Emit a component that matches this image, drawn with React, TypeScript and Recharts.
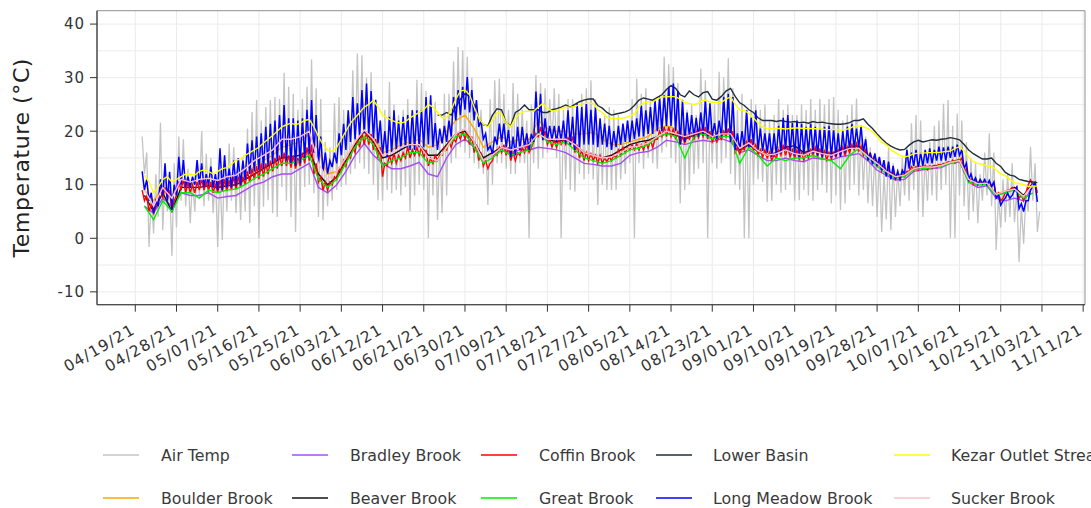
import React from "react";
import { LineChart, Line, XAxis, YAxis, CartesianGrid, ReferenceArea } from "recharts";

// days are counted from 04/19/21 (day 0)
const tickDays = [0, 9, 18, 27, 36, 45, 54, 63, 72, 81, 90, 99, 108, 117, 126, 135, 144, 153, 162, 171, 180, 189, 198, 207];
const tickLabels = [
  "04/19/21", "04/28/21", "05/07/21", "05/16/21", "05/25/21", "06/03/21", "06/12/21", "06/21/21",
  "06/30/21", "07/09/21", "07/18/21", "07/27/21", "08/05/21", "08/14/21", "08/23/21", "09/01/21",
  "09/10/21", "09/19/21", "09/28/21", "10/07/21", "10/16/21", "10/25/21", "11/03/21", "11/11/21",
];
const yTicks = [-10, 0, 10, 20, 30, 40];
const yGrid = [-10, -5, 0, 5, 10, 15, 20, 25, 30, 35, 40];

// half-day readings (afternoon high, night low), starting 04/20 noon
const airTemp = [19,
  12, 16, -1.6, 8, 0.9, 12, 4, 21.6, 1.5, 12, 5, 10, -3.3, 14, 2, 19, 7, 18.5,
  6, 13, 2.8, 11, 5, 14, 7.8, 20, 6, 15.8, 7, 15, 4.7, 12, -1.6, 13, -0.3, 14.6, 5, 17.7,
  7, 17, 4.7, 15, 3.4, 15, 5, 20.5, 2.8, 23.6, 6, 25.8, 0, 22, 5.9, 24.5, 7.1, 25.8, 4.7, 26.4,
  4, 26, 9.6, 30.9, 7, 28.3, 4, 27, 1.2, 24, 7, 26, 9.6, 28.3, 10, 33.4, 8.4, 28, 4, 26,
  3.4, 18, 6, 17, 7, 25.2, 9, 26.4, 9.6, 24, 10, 22, 12, 31.4, 13, 34.5, 14, 34.2, 13, 30,
  12, 31, 10, 26, 7.1, 22, 7, 24, 9, 29.2, 8.4, 25, 9, 23, 8, 24, 9.6, 26, 5, 24,
  8, 29.6, 10, 29, 9, 27.5, 0, 26, 8, 25.5, 3.4, 18, 4.7, 27, 8, 27, 14, 33, 15, 35.7,
  17, 35.1, 16, 33.9, 15, 30, 14, 22, 13, 24, 12, 20, 6.2, 26, 10, 29.5, 14, 29.8, 14, 27,
  13, 24, 12, 29, 12, 27, 14, 24, 14, 22, 0, 25, 14, 30.5, 13, 29, 15, 28, 16, 26,
  17, 28, 15, 27, 0, 24, 11, 26, 9, 26, 8.7, 24, 12, 27, 11, 28, 12, 29.5, 11, 26,
  6.2, 22, 10, 23, 9, 24.5, 9, 24, 9, 23, 11, 21, 12, 22, 14, 26, 0, 29.8, 14, 27,
  13, 28, 15, 26, 14, 24, 13, 26, 16, 33.9, 17, 32.5, 15, 32, 14, 29, 6.5, 26, 9, 24,
  10, 25, 12, 23, 13, 31.7, 14, 29.5, 0, 24, 14, 25, 13, 31.1, 14, 30, 15, 33.6, 12, 28,
  10, 24, 9, 27, 0, 24, 0, 26, 10, 25, 11, 24, 10.5, 25, 6.8, 22, 7, 23, 10, 26,
  8.5, 24, 9, 25, 10, 23, 7, 23, 7.1, 25, 9, 24, 8, 26, 7, 24, 9, 26, 10, 25,
  8.5, 26, 6.5, 26.4, 8, 24, 5.3, 22, 6.5, 23, 9, 25, 10, 26.1, 8, 20, 9, 19, 6.5, 17,
  6, 16, 4, 15, 1.2, 12, 3.5, 17, 1.5, 14, 4, 13, 6, 15, 8, 17, 7, 21.5, 9, 23,
  5, 22, 4, 16, 7, 18, 8, 21, 7, 22, 9, 25.1, 10, 25.8, 0, 21, 0, 23.3, 8, 22,
  6, 18, 3.4, 15, 5, 14, 2.8, 12, 7, 16, 8, 19.6, 6, 16, -2.2, 8, 2, 11, 3, 12,
  4, 14, 3, 9, -4.4, 6, -1, 8, 5, 17.1, 7, 14, 1.2, 5];

const longMeadow = [12.5,
  9, 11, 7, 8.5, 4.7, 7, 6, 11, 8, 14, 7, 12.4, 5.3, 10, 8, 15.2, 10, 14.6,
  9.6, 11.5, 9.6, 11.5, 10, 14.6, 10, 14, 9.6, 12, 10, 13.4, 9.5, 12, 9, 16.8, 9, 15.5, 9.5, 13,
  9.5, 14.5, 9.8, 15, 10, 14.5, 11, 17.7, 12, 18.3, 12.5, 19, 12.7, 19.6, 13, 20.8, 13.5, 21.4, 14, 22,
  14.5, 23, 15, 24.9, 14.5, 22.4, 14, 22.4, 13.5, 22, 14, 22.4, 15, 24, 15.8, 25.8, 16, 23, 14, 19,
  12.5, 16, 12.1, 14.5, 13.3, 16, 14, 19.6, 15.5, 21.4, 16.5, 23.9, 18, 26.4, 18.5, 25.2, 19, 27.7, 19.6, 28.9,
  19.5, 27.5, 18.5, 25.8, 17.7, 22, 15.5, 20, 15.2, 22.7, 16, 23.9, 16.5, 22, 16.8, 22.7, 17, 23, 16.5, 23.9,
  16.5, 23.9, 17, 23.9, 17, 26.4, 17.5, 26.7, 17, 21.5, 16.5, 20.5, 17.7, 21, 18, 22, 19, 26.4, 22, 27.7,
  23, 28.3, 24, 30.1, 23.5, 27.7, 22, 25.8, 20.8, 22, 18.5, 19.5, 16.5, 17.2, 15.8, 19, 17.5, 21.4, 18, 21.4,
  17, 20.2, 15.2, 19, 15.5, 20.8, 16.5, 20.8, 17, 19.6, 16.5, 19.5, 18, 27.4, 19.5, 27, 18.3, 22.4, 18.3, 21,
  18.3, 21, 18, 21, 18.3, 22, 17.7, 23.9, 17.5, 22.7, 16.5, 25.2, 17, 24.5, 17.5, 25.2, 17.5, 24, 17.5, 24.5,
  17, 22.4, 17.5, 21.4, 17, 21, 16.5, 20, 17, 21, 17.5, 21.4, 18, 22, 18, 22, 18.5, 22.4, 19, 24.9,
  19, 23.9, 19.5, 24.5, 19.5, 25.8, 20, 26.4, 20, 26.7, 21, 28.3, 21, 28.9, 20, 27.5, 17.5, 25.8, 18, 23.5,
  19, 23, 19, 22.5, 19, 23.5, 19.5, 25.8, 19, 25.2, 19, 21.5, 18.5, 22, 19, 26.4, 19.5, 27, 18, 26.4,
  16.5, 19.6, 16.5, 20, 17, 23.9, 17, 22.5, 17.5, 23.9, 16.5, 20.5, 16.3, 19.6, 16, 19.6, 15.2, 19.6, 15.5, 21,
  16, 22.5, 16.3, 23, 16, 21.5, 15.5, 22, 15.2, 21.4, 15.5, 20.8, 16, 21.4, 16, 20.8, 15.5, 20.5, 15.2, 20.8,
  15.5, 21, 15.2, 20.2, 15.3, 19.6, 15.2, 20, 16, 20.8, 16.5, 21.4, 16.8, 20.5, 17, 21, 16, 18.5, 14.5, 16,
  13.8, 15.8, 13.5, 15.2, 12.7, 14.6, 11.5, 14.3, 11, 13.5, 11, 12.5, 11, 12.7, 12, 16.5, 13, 16, 13.5, 16.5,
  13, 16, 13.5, 16.5, 14, 16.8, 14, 16.5, 14.5, 17.1, 14.5, 17, 14.5, 17.1, 15, 17.1, 15.2, 17.5, 15.5, 16.5,
  13, 14, 11, 12, 10.5, 11.3, 10, 11, 10.2, 11, 10, 10.8, 9.6, 10.5, 7.5, 8, 6.2, 7, 7.5, 8.4,
  7.5, 8, 9, 9.6, 5.5, 6.5, 5, 7, 7, 9, 10, 10.2,
  6.8];

const coffin = [9,
  7, 8, 5, 6.5, 4.7, 6, 6.5, 9.6, 7.5, 9.5, 7.5, 9, 5, 7, 8, 10.6, 9, 11,
  8.5, 10.5, 8.5, 10, 8.5, 10.5, 9, 11, 9, 10.5, 9, 10.5, 8.5, 10.2, 8.5, 11, 8.8, 11, 8.8, 10.8,
  9, 11.5, 9.2, 11.5, 9.5, 11.5, 10, 12.5, 10.5, 13, 11, 13.5, 11, 14, 11.5, 14, 12, 14.5, 12.5, 15,
  13, 15.5, 13.5, 16, 13.5, 15.5, 13.2, 15.5, 13, 15, 13.5, 16, 14, 17, 14.5, 17.5, 12, 14, 10.5, 11.5,
  9, 10.5, 9, 10.5, 10, 11.5, 11, 13, 12.5, 14.5, 13.5, 15.5, 15, 17, 16, 18.5, 17, 19.6, 17.5, 19.9,
  17.5, 19.5, 16.5, 18.5, 15, 17, 11.5, 14, 13.5, 15.5, 14, 15.8, 14, 15.5, 14.5, 16, 15, 17, 15, 16.5,
  15.5, 17, 15.5, 17, 15, 16.5, 13.5, 15, 14, 15.5, 14.5, 15.5, 15.5, 17, 16.5, 18, 17, 18.5, 18, 19.5,
  18.5, 20, 18.5, 19.9, 17.5, 19, 16, 17.5, 14.5, 16, 13.5, 14.5, 13, 14, 14.5, 16, 15.5, 17, 16, 17.5,
  15.5, 17, 14.5, 16, 14.5, 16, 15.5, 17, 16, 17.5, 16, 17, 18, 19.6, 19, 20.8, 18.5, 20, 17.5, 18.5,
  17, 18.3, 17, 18.5, 17.5, 18.5, 17.5, 18.8, 17.5, 19, 16, 17.5, 15, 16.5, 14.5, 16, 14.5, 15.8, 14.5, 15.5,
  14, 15.5, 14, 15, 14.3, 15.2, 14.5, 15.5, 15, 16.5, 15.5, 17, 16, 17, 16.5, 17.5, 16.5, 17.7, 16.5, 17.5,
  16.5, 18, 16.8, 18.3, 17, 18.5, 18.5, 20, 19, 20.8, 19, 20.8, 19, 20.5, 18.5, 20, 17.5, 19, 17.8, 19.2,
  18.5, 19.6, 18.5, 20, 18.8, 20.5, 19, 20.8, 18.5, 20, 18, 19, 18, 19, 18.5, 20, 19, 20.5, 18.5, 20,
  16, 17, 15.8, 16.8, 16.5, 18, 17, 18.5, 16.5, 17.5, 15.5, 16.5, 15.2, 16.5, 15, 16, 14.6, 15.5, 15, 16.5,
  15.5, 17.5, 15.5, 17, 15.2, 16.5, 15, 16.5, 14.8, 16, 14.6, 16, 15, 16.5, 15.5, 17, 15.2, 16.8, 15, 16.3,
  14.6, 16, 14.8, 16, 15.2, 16.5, 15.5, 17, 15.5, 17, 16, 17.5, 16.5, 17.7, 16.3, 17.2, 15.5, 16.5, 15, 15.8,
  14.5, 15.5, 13.4, 14.5, 12.5, 13.5, 12, 13, 11.5, 12.5, 11, 12, 11, 12, 11.5, 12.5, 12.5, 13.4, 12.7, 13.4,
  12.7, 13.4, 13, 13.6, 12.8, 13.5, 13, 13.6, 13.2, 13.8, 13.5, 14, 13.7, 14.3, 14, 14.6, 14, 14.6, 14.3, 15,
  12.5, 13, 10.5, 11, 10, 10.8, 10, 10.5, 10, 10.5, 10, 10.6, 9.8, 10.3, 8, 8.5, 7, 7.5, 8.5, 9,
  9, 9.5, 9, 9.5, 7.5, 8, 7, 8.5, 10, 10.9, 10, 10.5,
  8.5];

// daily readings from 04/21
const kezar = [
  11.8, 10.5, 8.5, 9.5, 11, 11.5, 10.5, 11, 11.5,
  12, 12, 11.8, 12.5, 12.8, 12.5, 12, 12.5, 13, 13.2,
  13.8, 14.6, 14.8, 15.5, 16, 16.5, 17, 17.8, 18.5, 19.2,
  20, 20.8, 21.2, 21.5, 21.2, 21.5, 22, 22.2, 20.8, 19,
  17.5, 16.5, 16.2, 17, 18.5, 20, 21.5, 22.5, 23.5, 24.5,
  25, 25.8, 24.5, 23, 22.5, 22, 21.7, 21.5, 21.8, 22.5,
  23, 23.5, 24, 25, 24.5, 23.5, 22.5, 22.5, 24, 26,
  27.5, 27.7, 26.8, 24.5, 22.5, 21.3, 20.8, 22, 23.5, 23.3,
  21.5, 20.8, 22.5, 23.3, 23.7, 23.7, 23.7, 24.5, 25.2, 24.2,
  23.8, 23.8, 24.2, 24.5, 24.5, 24.6, 25, 25.2, 25.2, 25.2,
  24, 23.5, 22.6, 22.4, 22.4, 22.4, 22.5, 22.8, 23.2, 24.5,
  25.3, 25.5, 25.5, 26, 26.4, 26.4, 26.5, 26.4, 26, 25.3,
  25.2, 25, 25.2, 25.8, 25.6, 25.4, 25.3, 25.4, 26, 26.4,
  25, 24, 23.9, 23.3, 22.5, 21.5, 20.8, 20.5, 20.4, 20.5,
  20.5, 20.4, 20.5, 20.6, 20.6, 20.5, 20.5, 20.5, 20.4, 20.4,
  20.3, 20.3, 20.3, 20.2, 20.3, 20.5, 21, 21, 20.8, 20.5,
  19.9, 19, 17.9, 17.5, 16.5, 16, 15.5, 15.2, 15.4, 15.8,
  15.9, 15.9, 16, 16, 16, 16.1, 16.2, 16.3, 16.8, 17.1,
  16.3, 15.2, 14.3, 14, 13.8, 13.5, 13.4, 12.8, 12, 11.7,
  11, 10.4, 10.2, 10, 9.7, 9.6, 9.8];

// daily readings from 06/24
const lowerBasin = [
  23, 23, 23.5, 23, 24.5, 26, 27, 26.5, 25, 22.5,
  21.2, 21, 23, 24.2, 24, 21.5, 21, 23.5, 24, 24.9,
  24, 24, 24, 23.5, 23.5, 24, 24.2, 24.5, 24.9, 24.5,
  25, 25.5, 25.8, 26, 26, 24.8, 24.3, 23.5, 23, 23.2,
  23.4, 23.6, 24, 24.8, 25.8, 26.2, 26, 25.8, 26.3, 26.8,
  27.8, 28.5, 28, 26.8, 26.4, 27.5, 26.8, 26.4, 27.2, 27.4,
  26, 25.8, 26.5, 27.5, 28, 26.5, 25.3, 24.8, 24, 23.5,
  22.5, 22, 22, 22, 21.8, 22, 21.8, 21.7, 21.8, 21.6,
  21.7, 21.5, 21.8, 21.6, 21.7, 21.5, 21.4, 21.3, 21.3, 21.4,
  21.6, 22, 22, 22.3, 21.3, 20.5, 19.5, 18.6, 17.8, 17.2,
  16.8, 16.5, 16.6, 17.4, 18, 18.3, 18, 18.2, 18.4, 18.3,
  18.5, 18.6, 18.8, 18.6, 18.4, 17.5, 16.5, 15.8, 15.3, 14.8,
  14.8, 15, 14, 13.4, 12.3, 11.8, 11.6, 11, 10.8, 10.6,
  10.5, 10.4];

// readings every second day from 04/21
const bradley = [
  6, 4.7, 7.5, 6, 8.5, 8, 8, 8.5, 7.5, 7.8,
  8, 9, 10, 10.5, 11.5, 12, 12, 13, 14, 9.5,
  8.5, 10, 12.5, 15.5, 17.7, 15.5, 14, 13, 13, 13.5,
  14.2, 12, 11.5, 15, 17.5, 18.5, 17, 14.5, 15.5, 16.5,
  16, 16.5, 16.5, 17, 16.8, 16.5, 16, 15, 14, 13.8,
  13.5, 13.5, 14, 15.5, 16, 16.2, 17, 18.3, 18, 17.5,
  18, 18.3, 18, 18.6, 18, 16, 16.5, 15.5, 14.5, 14.5,
  15, 14.5, 14.3, 15, 14.8, 14.6, 15.2, 15.5, 15.8, 14.5,
  12.7, 11.8, 10.9, 11, 12.5, 12.8, 13, 13.2, 14, 14.3,
  10.5, 9.5, 9.8, 7.5, 7, 7.5, 7, 9.6];

const sucker = [
  9, 6, 9.5, 7.5, 11, 10.5, 11, 11.2, 10.8, 11.5,
  11.8, 13, 14.5, 15.5, 16.5, 18.5, 18.5, 19, 20, 14,
  11, 12.5, 15, 18, 20.2, 18.5, 15.5, 16, 17, 17.5,
  17.5, 15, 14.5, 17, 19.5, 20.5, 18, 14.5, 15.5, 17,
  16.5, 17, 17.5, 19.5, 18.5, 18.5, 18.5, 17.5, 16, 15.5,
  15, 15.2, 16, 17, 17.2, 17.8, 19, 20, 19.5, 19,
  19.5, 20, 19, 19.5, 19.5, 16.8, 17.8, 16.3, 15.5, 15.8,
  16.5, 15.8, 15.5, 16.3, 15.8, 15.5, 16.2, 16.8, 16.8, 15.3,
  14, 12.5, 11.5, 11.8, 13, 13.3, 13.3, 13.6, 14.2, 14.5,
  11, 10.2, 10.3, 8.2, 8.8, 9.2, 7.8, 10];

const great = [
  6, 3.5, 7, 5, 8.5, 8.5, 7.5, 9, 8.5, 9,
  9.2, 10, 11.2, 12, 13, 14, 14, 14.5, 15.5, 11,
  9.5, 11, 14, 17, 19, 17.5, 13.5, 14.5, 15, 16,
  16, 14, 14.5, 17, 19, 19.5, 17, 14, 15, 16.5,
  15.5, 16, 16.5, 19.8, 18, 17.5, 18, 16.5, 15, 14.5,
  14, 14.5, 15.5, 16.5, 16.8, 17.5, 19, 19.5, 19, 15,
  19, 19.5, 18.5, 19, 19, 14, 17, 15.5, 13.5, 15,
  14.5, 15, 15, 15.5, 14.8, 14.5, 13, 15.5, 16.8, 15,
  13.5, 12, 11.2, 11.5, 12.8, 13, 13.2, 13.5, 14, 14.5,
  10.5, 10, 10, 8, 8.5, 9, 7.5, 8.5];

const boulder = [
  9, 7, 9.5, 8, 10.5, 10, 10.5, 10.5, 10.2, 10.5,
  11, 12, 13.5, 14.5, 15.5, 17, 17.5, 18, 19.5, 16.5,
  12, 12.5, 15, 18, 20, 19, 16, 16.5, 17.5, 18,
  18.5, 17, 17.5, 20, 22, 23, 20.5, 17, 18, 19,
  18, 18.5, 18.5, 22, 20.5, 20, 20, 19.5, 19.5, 19.8,
  18.5, 17.5, 17.5, 18, 18.5, 19, 20.5, 21, 20.5, 19,
  19.6, 20, 19.5, 20, 20, 17, 18.5, 17, 16, 17,
  17, 16.5, 16, 16.8, 16.3, 16, 16.8, 17.5, 18, 15.8,
  14.2, 12.8, 11.8, 12, 13.2, 13.5, 13.5, 13.8, 14.3, 14.8,
  11.2, 10.5, 10.4, 8.3, 8.8, 9.3, 8, 10];

const beaver = [
  8, 5, 8.5, 5, 9.5, 9.5, 9.5, 9.8, 9.5, 9.8,
  10, 11, 12, 13, 14, 15, 15.2, 15.5, 16.5, 12,
  10, 11.5, 14.5, 17.5, 20, 18, 15, 15.5, 16.5, 17.5,
  17.5, 15.5, 15.5, 17.5, 19.5, 20, 18, 15, 16, 17,
  16.5, 17, 17.5, 19.5, 18.5, 18, 18.5, 17.5, 16, 15.5,
  15, 15.5, 16.5, 17.5, 18, 18.3, 19, 19.5, 19.3, 18.5,
  19.3, 19.8, 19, 19.5, 19.5, 16.5, 17.5, 16.2, 15.5, 16,
  17, 17.3, 16, 16.5, 16, 15.8, 16.5, 17, 17.2, 15.5,
  14, 12.5, 11.5, 11.8, 13, 13.3, 13.4, 13.7, 14.2, 14.6,
  11, 10.3, 10.3, 8.2, 8.5, 9.5, 8, 10.3];

const toPoints = (values: number[], start: number, step: number) =>
  values.map((v, i) => ({ day: start + i * step, v }));

// drawing order follows the legend (column by column)
const seriesList = [
  { name: "Air Temp", color: "#c4c4c4", width: 1.3, data: toPoints(airTemp, 1.5, 0.5) },
  { name: "Boulder Brook", color: "#ffa500", width: 1.4, data: toPoints(boulder, 2, 2) },
  { name: "Bradley Brook", color: "#a64cf5", width: 1.4, data: toPoints(bradley, 2, 2) },
  { name: "Beaver Brook", color: "#111111", width: 1.4, data: toPoints(beaver, 2, 2) },
  { name: "Coffin Brook", color: "#ff0000", width: 1.4, data: toPoints(coffin, 1.5, 0.5) },
  { name: "Great Brook", color: "#00ee00", width: 1.4, data: toPoints(great, 2, 2) },
  { name: "Lower Basin", color: "#1f2e3a", width: 1.4, data: toPoints(lowerBasin, 66, 1) },
  { name: "Long Meadow Brook", color: "#0000ff", width: 1.5, data: toPoints(longMeadow, 1.5, 0.5) },
  { name: "Kezar Outlet Stream", color: "#ffff00", width: 1.4, data: toPoints(kezar, 2, 1) },
  { name: "Sucker Brook", color: "#ffc0cb", width: 1.4, data: toPoints(sucker, 2, 2) },
];

const FONT = "'DejaVu Sans', sans-serif";
const X_DOMAIN = [-8.36, 207.4];
const Y_DOMAIN = [-12.4, 42.5];

const DateTick = (props: any) => {
  const { x, y, payload } = props;
  const i = tickDays.indexOf(payload.value);
  const ax = x + 1;
  const ay = y + 21;
  return (
    <text
      x={ax}
      y={ay}
      transform={`rotate(-30, ${ax}, ${ay})`}
      textAnchor="end"
      fontSize={15.5}
      letterSpacing={1.2}
      fill="#333"
      fontFamily={FONT}
    >
      {tickLabels[i]}
    </text>
  );
};

const legendKeyX = [103, 292, 481, 656, 894];
const legendTextX = [161, 350, 539, 713, 951];
const legendRowY = [455, 498];

const ChartLegend = () => (
  <svg width={1091} height={508} style={{ position: "absolute", left: 0, top: 0, pointerEvents: "none" }}>
    {seriesList.map((s, i) => {
      const col = Math.floor(i / 2);
      const row = i % 2;
      const y = legendRowY[row];
      return (
        <g key={s.name}>
          <line x1={legendKeyX[col]} x2={legendKeyX[col] + 36} y1={y} y2={y} stroke={s.color} strokeWidth={2} strokeOpacity={0.75} />
          <text x={legendTextX[col]} y={y} dominantBaseline="central" fontSize={15.8} fill="#3a3a3a" fontFamily={FONT}>
            {s.name}
          </text>
        </g>
      );
    })}
  </svg>
);

const App = () => {
  return (
    <div style={{ position: "absolute", left: 0, top: 0, width: 1091, height: 508, overflow: "hidden", background: "#fff" }}>
      <LineChart width={1091} height={508} margin={{ top: 10.7, right: 6, left: 0, bottom: 0 }}>
        <CartesianGrid horizontalValues={yGrid} verticalValues={tickDays} stroke="#ebebeb" strokeWidth={1} />
        <ReferenceArea
          x1={X_DOMAIN[0]}
          x2={X_DOMAIN[1]}
          y1={Y_DOMAIN[0]}
          y2={Y_DOMAIN[1]}
          fill="none"
          fillOpacity={0}
          stroke="#8f8f8f"
          strokeWidth={1}
          ifOverflow="visible"
        />
        <XAxis
          type="number"
          dataKey="day"
          domain={X_DOMAIN}
          allowDataOverflow
          ticks={tickDays}
          interval={0}
          height={203.3}
          tickSize={7}
          tickMargin={0}
          tick={<DateTick />}
          axisLine={{ stroke: "#333", strokeWidth: 1.1 }}
          tickLine={{ stroke: "#333" }}
        />
        <YAxis
          type="number"
          domain={Y_DOMAIN}
          allowDataOverflow
          ticks={yTicks}
          interval={0}
          width={97}
          tickSize={7}
          tickMargin={5}
          tick={{ fontSize: 15, fill: "#333", fontFamily: FONT, letterSpacing: 1 }}
          axisLine={{ stroke: "#333", strokeWidth: 1.1 }}
          tickLine={{ stroke: "#333" }}
          label={{
            content: () => (
              <text
                x={22}
                y={157.7}
                transform="rotate(-90, 22, 157.7)"
                textAnchor="middle"
                dominantBaseline="central"
                fontSize={22}
                letterSpacing={0.6}
                fill="#222"
                fontFamily={FONT}
              >
                Temperature (°C)
              </text>
            ),
          }}
        />
        {seriesList.map((s) => (
          <Line
            key={s.name}
            data={s.data}
            dataKey="v"
            name={s.name}
            type="linear"
            stroke={s.color}
            strokeWidth={s.width}
            dot={false}
            activeDot={false}
            isAnimationActive={false}
          />
        ))}
      </LineChart>
      <ChartLegend />
    </div>
  );
};

export default App;
